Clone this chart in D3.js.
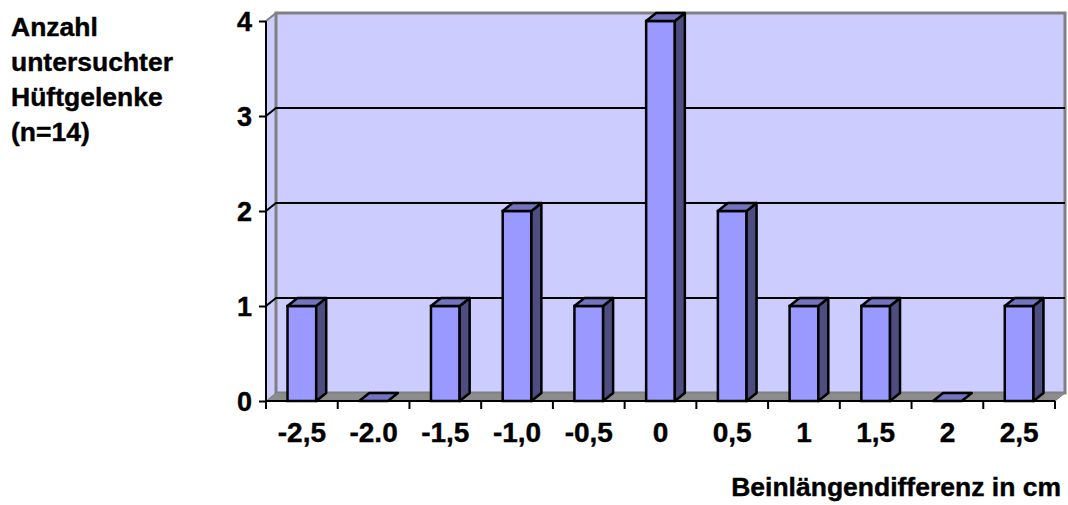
<!DOCTYPE html>
<html>
<head>
<meta charset="utf-8">
<script src="https://cdn.jsdelivr.net/npm/d3@7"></script>
<style>
  body { margin: 0; background: #fff; }
  text { font-family: "Liberation Sans", Arial, sans-serif; font-weight: bold; fill: #000; stroke: #000; stroke-width: 0.4px; }
</style>
</head>
<body>
<svg id="chart" width="1068" height="505"></svg>
<script>
const categories = ["-2,5", "-2.0", "-1,5", "-1,0", "-0,5", "0", "0,5", "1", "1,5", "2", "2,5"];
const counts = [1, 0, 1, 2, 1, 4, 2, 1, 1, 0, 1];
const yTicks = [0, 1, 2, 3, 4];
const yTitle = ["Anzahl", "untersuchter", "Hüftgelenke", "(n=14)"];
const xTitle = "Beinlängendifferenz in cm";

const depthX = 10;
const depthY = -8;

const svg = d3.select("#chart");

const x = d3.scaleBand().domain(categories).range([266, 1055]);
const y = d3.scaleLinear().domain([0, 4]).range([401, 21]);

const x0 = x.range()[0];
const x1 = x.range()[1];
const yBase = y(0);
const yTop = y(4);

const pts = (arr) => arr.map((p) => p.join(",")).join(" ");

// left side wall
svg
  .append("polygon")
  .attr("points", pts([[x0, yBase], [x0, yTop], [x0 + depthX, yTop + depthY], [x0 + depthX, yBase + depthY]]))
  .attr("fill", "#CCCCFF");

// back wall
svg
  .append("rect")
  .attr("x", x0 + depthX)
  .attr("y", yTop + depthY)
  .attr("width", x1 - x0)
  .attr("height", yBase - yTop)
  .attr("fill", "#CCCCFF")
  .attr("stroke", "#808080")
  .attr("stroke-width", 3);

// floor
svg
  .append("polygon")
  .attr("points", pts([[x0, yBase], [x1, yBase], [x1 + depthX, yBase + depthY], [x0 + depthX, yBase + depthY]]))
  .attr("fill", "#8c8c8c")
  .attr("stroke", "#808080")
  .attr("stroke-width", 1);

// gridlines
const grid = svg.append("g");
yTicks
  .filter((d) => d > 0 && d < 4)
  .forEach((d) => {
    grid
      .append("polyline")
      .attr("points", pts([[x0, y(d)], [x0 + depthX, y(d) + depthY], [x1 + depthX, y(d) + depthY]]))
      .attr("fill", "none")
      .attr("stroke", "#000")
      .attr("stroke-width", 2);
  });
grid
  .append("line")
  .attr("x1", x0)
  .attr("y1", yTop)
  .attr("x2", x0 + depthX)
  .attr("y2", yTop + depthY)
  .attr("stroke", "#808080")
  .attr("stroke-width", 2);

// bars
const barW = x.bandwidth() * 0.4;
const bars = svg
  .selectAll("g.bar")
  .data(categories.map((c, i) => ({ c: c, v: counts[i] })))
  .enter()
  .append("g")
  .attr("class", "bar");

bars.each(function (d) {
  const g = d3.select(this);
  const bx = x(d.c) + (x.bandwidth() - barW) / 2;
  const by = y(d.v);
  if (d.v > 0) {
    g.append("rect")
      .attr("x", bx)
      .attr("y", by)
      .attr("width", barW)
      .attr("height", yBase - by)
      .attr("fill", "#9999FF")
      .attr("stroke", "#000")
      .attr("stroke-width", 2.5);
    g.append("polygon")
      .attr("points", pts([[bx + barW, by], [bx + barW + depthX, by + depthY], [bx + barW + depthX, yBase + depthY], [bx + barW, yBase]]))
      .attr("fill", "#4D4D80")
      .attr("stroke", "#000")
      .attr("stroke-width", 2.5)
      .attr("stroke-linejoin", "round");
  }
  g.append("polygon")
    .attr("points", pts([[bx, by], [bx + depthX, by + depthY], [bx + barW + depthX, by + depthY], [bx + barW, by]]))
    .attr("fill", "#7373BF")
    .attr("stroke", "#000")
    .attr("stroke-width", 2.5)
    .attr("stroke-linejoin", "round");
});

// y axis
const yAxis = svg
  .append("g")
  .attr("transform", "translate(" + x0 + ",0)")
  .call(d3.axisLeft(y).tickValues(yTicks).tickSize(7).tickPadding(7).tickFormat(d3.format("d")));
yAxis.select(".domain").attr("stroke", "#000").attr("stroke-width", 2).attr("d", "M0," + yBase + "V" + yTop);
yAxis.selectAll(".tick line").attr("stroke", "#000").attr("stroke-width", 2);
yAxis
  .selectAll(".tick text")
  .attr("font-family", null)
  .attr("font-size", 27)
  .attr("dy", null)
  .attr("y", 9);

// x axis
const xAxis = svg
  .append("g")
  .attr("transform", "translate(0," + yBase + ")")
  .call(d3.axisBottom(x).tickSize(0).tickPadding(0));
xAxis.select(".domain").attr("stroke", "#000").attr("stroke-width", 2).attr("d", "M" + x0 + ",0H" + x1);
xAxis
  .selectAll(".tick text")
  .attr("font-family", null)
  .attr("font-size", 28)
  .attr("dy", null)
  .attr("y", 41);

// category boundary ticks
svg
  .append("g")
  .selectAll("line")
  .data(categories.concat(["end"]))
  .enter()
  .append("line")
  .attr("x1", (d, i) => (i < categories.length ? x(d) : x1))
  .attr("x2", (d, i) => (i < categories.length ? x(d) : x1))
  .attr("y1", yBase)
  .attr("y2", yBase + 8)
  .attr("stroke", "#000")
  .attr("stroke-width", 2);

// titles
svg
  .append("text")
  .attr("font-size", 26.5)
  .selectAll("tspan")
  .data(yTitle)
  .enter()
  .append("tspan")
  .attr("x", 11)
  .attr("y", (d, i) => 36 + i * 35)
  .text((d) => d);

svg
  .append("text")
  .attr("x", 1061)
  .attr("y", 496)
  .attr("text-anchor", "end")
  .attr("font-size", 26.5)
  .text(xTitle);
</script>
</body>
</html>
